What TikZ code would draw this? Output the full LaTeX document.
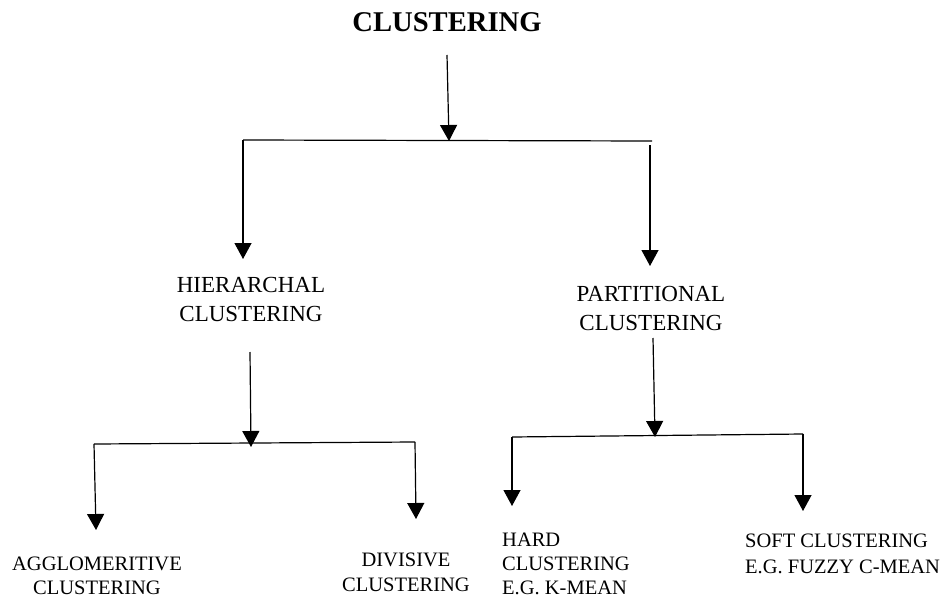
\documentclass[tikz,border=0pt]{standalone}
\usepackage{fontspec}
\setmainfont{Liberation Serif}
\usetikzlibrary{arrows.meta}
\begin{document}
\begin{tikzpicture}[x=1pt,y=-1pt,
  line/.style={line width=1.2pt,black},
  arr/.style={line, -{Triangle[width=17pt,length=16pt]}},
  titletext/.style={inner sep=0pt,font=\fontsize{28.6}{34}\selectfont\bfseries},
  midtext/.style={inner sep=0pt,align=center,font=\fontsize{23}{29}\selectfont},
  lowtext/.style={inner sep=0pt,font=\fontsize{20.5}{25}\selectfont}]
\useasboundingbox (0,0) rectangle (944,599);
% texts
\node[titletext,anchor=base] (title) at (447,32) {CLUSTERING};
\node[midtext,anchor=north] (hier) at (251,277) {HIERARCHAL\\CLUSTERING};
\node[midtext,anchor=north] (part) at (651,286) {PARTITIONAL\\CLUSTERING};
\node[lowtext,align=center,anchor=north,font=\fontsize{20.5}{24}\selectfont] (agg) at (97,557) {AGGLOMERITIVE\\CLUSTERING};
\node[lowtext,align=center,anchor=north] (div) at (406,553) {DIVISIVE\\CLUSTERING};
\node[lowtext,align=left,anchor=north west,font=\fontsize{20.5}{24}\selectfont] (hard) at (502,533) {HARD\\CLUSTERING\\E.G. K-MEAN};
\node[lowtext,align=left,anchor=north west,font=\fontsize{20.5}{26}\selectfont] (soft) at (745,534) {SOFT CLUSTERING\\E.G. FUZZY C-MEAN};
% coordinates
\coordinate (t0) at (447,55);
\coordinate (t1) at (449,141);
\coordinate (hl) at (243,140);
\coordinate (hr) at (652,141);
\coordinate (ha) at (243,259);
\coordinate (pr0) at (650,145);
\coordinate (pa) at (650,266);
\coordinate (h0) at (250,352);
\coordinate (h1) at (251,447);
\coordinate (al) at (94,444);
\coordinate (dr) at (415,442);
\coordinate (aa) at (96,530);
\coordinate (da) at (416,519);
\coordinate (p0) at (653,338);
\coordinate (p1) at (655,437);
\coordinate (kl) at (512,437);
\coordinate (sr) at (803,434);
\coordinate (ka) at (512,506);
\coordinate (sa) at (803,511);
% connectors
\draw[arr] (t0) -- (t1);
\draw[line] (hl) -- (hr);
\draw[arr] (hl) -- (ha);
\draw[arr] (pr0) -- (pa);
\draw[arr] (h0) -- (h1);
\draw[line] (al) -- (dr);
\draw[arr] (al) -- (aa);
\draw[arr] (dr) -- (da);
\draw[arr] (p0) -- (p1);
\draw[line] (kl) -- (sr);
\draw[arr] (kl) -- (ka);
\draw[arr] (sr) -- (sa);
\end{tikzpicture}
\end{document}
